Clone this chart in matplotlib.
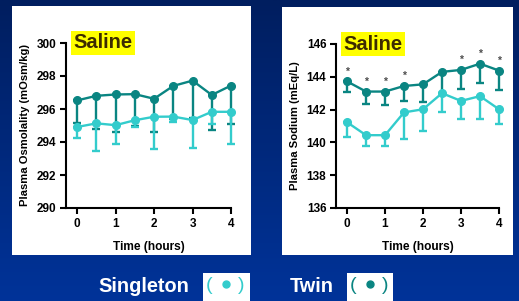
"""Plasma osmolality and sodium after saline, singleton vs twin pregnancies."""

import matplotlib

matplotlib.use("Agg")

import matplotlib.pyplot as plt
import numpy as np
from matplotlib.colors import LinearSegmentedColormap
from matplotlib.patches import Rectangle

plt.rcParams["font.family"] = ["Liberation Sans", "DejaVu Sans"]
plt.rcParams["font.weight"] = "bold"

TWIN = "#0a8582"
SINGLE = "#33cccc"

hours = [0, 0.5, 1, 1.5, 2, 2.5, 3, 3.5, 4]

osm_twin = [296.52, 296.8, 296.88, 296.9, 296.62, 297.4, 297.72, 296.85, 297.42]
osm_twin_low = [295.18, 294.8, 294.6, 294.95, 294.62, 295.4, 295.45, 294.7, 295.08]
osm_single = [294.91, 295.13, 295.02, 295.32, 295.53, 295.54, 295.33, 295.83, 295.83]
osm_single_low = [294.24, 293.48, 293.88, 294.92, 293.6, 295.24, 293.65, 295.1, 293.9]

na_twin = [143.72, 143.1, 143.1, 143.44, 143.54, 144.3, 144.42, 144.8, 144.38]
na_twin_low = [143.08, 142.32, 142.3, 142.5, 142.48, 143.02, 143.26, 143.62, 143.17]
na_single = [141.23, 140.44, 140.44, 141.83, 142.02, 143.0, 142.53, 142.82, 142.02]
na_single_low = [140.32, 139.78, 139.78, 140.18, 140.72, 141.88, 141.42, 141.45, 141.1]
na_stars = [True, True, True, True, False, False, True, True, True]


def draw_series(ax, values, lows, color):
    values = np.array(values)
    down = values - np.array(lows)
    ax.errorbar(
        hours,
        values,
        yerr=[down, np.zeros_like(down)],
        color=color,
        lw=1.7,
        marker="o",
        ms=5.5,
        capsize=3,
        capthick=1.7,
        elinewidth=1.7,
        clip_on=False,
    )


def style_axis(ax, ylim, yticks, ylabel):
    ax.set_xlim(-0.29, 4.0)
    ax.set_ylim(*ylim)
    ax.set_xticks([0, 1, 2, 3, 4])
    ax.set_yticks(yticks)
    for side in ("top", "right"):
        ax.spines[side].set_visible(False)
    for side in ("left", "bottom"):
        ax.spines[side].set_linewidth(1.5)
    ax.tick_params(width=1.5, length=4, labelsize=8.5, pad=3)
    for label in ax.get_xticklabels() + ax.get_yticklabels():
        label.set_fontweight("bold")
    ax.set_xlabel("Time (hours)", fontsize=8.6, fontweight="bold", labelpad=8)
    ax.set_ylabel(ylabel, fontsize=8.1, fontweight="bold", labelpad=5)
    ax.patch.set_alpha(0)
    ax.text(
        0.045, 1.0, "Saline", transform=ax.transAxes, fontsize=14.5,
        fontweight="bold", color="#3d2c00", va="center", ha="left",
        bbox=dict(boxstyle="square,pad=0.12", fc="#ffff00", ec="none"),
    )


fig = plt.figure(figsize=(5.19, 3.01), dpi=100)

bg = fig.add_axes([0, 0, 1, 1])
grad = LinearSegmentedColormap.from_list("bg", ["#003399", "#001e5f"])
bg.imshow(np.linspace(0, 1, 256).reshape(-1, 1), aspect="auto", cmap=grad,
          extent=[0, 1, 0, 1], origin="lower")
bg.set_axis_off()
bg.add_patch(Rectangle((12 / 519, 46 / 301), 239 / 519, 249 / 301,
                       transform=fig.transFigure, fc="white", ec="none"))
bg.add_patch(Rectangle((282 / 519, 46 / 301), 231 / 519, 248 / 301,
                       transform=fig.transFigure, fc="white", ec="none"))
bg.add_patch(Rectangle((203 / 519, 0), 47 / 519, 28 / 301,
                       transform=fig.transFigure, fc="white", ec="none"))
bg.add_patch(Rectangle((347 / 519, 0), 46 / 519, 28 / 301,
                       transform=fig.transFigure, fc="white", ec="none"))

ax1 = fig.add_axes([66 / 519, 93 / 301, 165 / 519, 165 / 301])
draw_series(ax1, osm_twin, osm_twin_low, TWIN)
draw_series(ax1, osm_single, osm_single_low, SINGLE)
style_axis(ax1, (290, 300), [290, 292, 294, 296, 298, 300],
           "Plasma Osmolality (mOsm/kg)")

ax2 = fig.add_axes([336 / 519, 93 / 301, 163 / 519, 164 / 301])
draw_series(ax2, na_twin, na_twin_low, TWIN)
draw_series(ax2, na_single, na_single_low, SINGLE)
for x, y, star in zip(hours, na_twin, na_stars):
    if star:
        ax2.annotate("*", (x, y), xytext=(0, 3.5), textcoords="offset points",
                     ha="center", va="bottom", fontsize=7.5, color="#4d4d4d")
style_axis(ax2, (136, 146), [136, 138, 140, 142, 144, 146],
           "Plasma Sodium (mEq/L)")

fig.text(144 / 519, 1 - 286 / 301, "Singleton", color="white", fontsize=14.3,
         fontweight="bold", ha="center", va="center")
fig.text(312 / 519, 1 - 287 / 301, "Twin", color="white", fontsize=14.3,
         fontweight="bold", ha="center", va="center")
for cx, color in ((226, SINGLE), (370, TWIN)):
    for dx, paren in ((-17, "("), (15, ")")):
        fig.text((cx + dx) / 519, 1 - 286 / 301, paren, color=color,
                 fontsize=14, fontweight="normal", ha="center", va="center")
    bg.plot([cx / 519], [1 - 284 / 301], "o", color=color, ms=5,
            transform=fig.transFigure)

fig.savefig("out.png", dpi=100)
